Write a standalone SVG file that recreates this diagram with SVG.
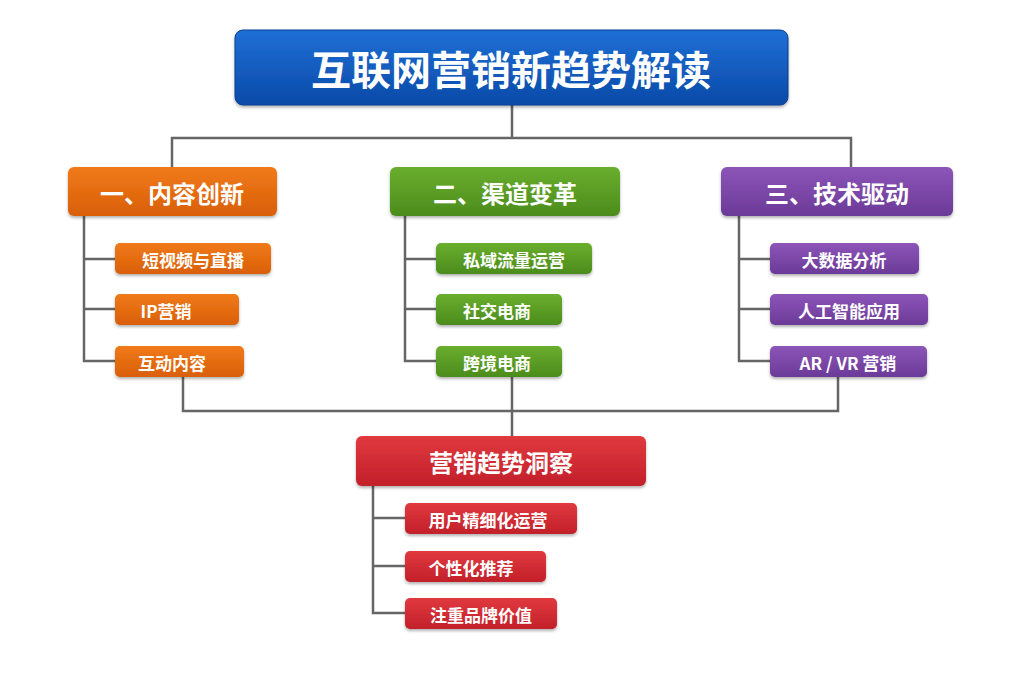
<svg xmlns="http://www.w3.org/2000/svg" width="1024" height="683" viewBox="0 0 1024 683">
<defs>
<linearGradient id="gb" x1="0" y1="0" x2="0" y2="1"><stop offset="0" stop-color="#1f6fd6"/><stop offset="1" stop-color="#0a4aa8"/></linearGradient>
<linearGradient id="go" x1="0" y1="0" x2="0" y2="1"><stop offset="0" stop-color="#f07a1a"/><stop offset="1" stop-color="#d95f06"/></linearGradient>
<linearGradient id="gg" x1="0" y1="0" x2="0" y2="1"><stop offset="0" stop-color="#6aae2e"/><stop offset="1" stop-color="#4b8c1c"/></linearGradient>
<linearGradient id="gp" x1="0" y1="0" x2="0" y2="1"><stop offset="0" stop-color="#8c55b8"/><stop offset="1" stop-color="#6b3a98"/></linearGradient>
<linearGradient id="gr" x1="0" y1="0" x2="0" y2="1"><stop offset="0" stop-color="#e0393f"/><stop offset="1" stop-color="#c2202a"/></linearGradient>
<filter id="sh" x="-10%" y="-20%" width="120%" height="150%"><feDropShadow dx="0" dy="2" stdDeviation="1.5" flood-opacity="0.3"/></filter>
</defs>
<style>
text{font-family:"Noto Sans CJK SC","Noto Sans",sans-serif;fill:#fff;text-anchor:middle;dominant-baseline:central;font-weight:bold}
.t{font-size:40px}.c{font-size:24px}.s{font-size:17px}
rect{filter:url(#sh)}
.ln{stroke:#666;stroke-width:2.5;fill:none}
</style>
<rect width="1024" height="683" fill="#fff" style="filter:none"/>
<g id="connectors" class="ln">
<path d="M512 105V138M172 167V138H851V167"/>
<path d="M84 216V361H115M84 259H115M84 309H115"/>
<path d="M405 216V361H436M405 259H436M405 309H436"/>
<path d="M739 216V361H770M739 259H770M739 309H770"/>
<path d="M183 377V411H838V377M512 377V436"/>
<path d="M373 486V613H405M373 518H405M373 566H405"/>
</g>
<g id="title"><rect x="235" y="30" width="553" height="75" rx="8" fill="url(#gb)" stroke="#0a3f90"/><text class="t" x="511" y="68">互联网营销新趋势解读</text></g>
<g id="cat1"><rect x="68" y="167" width="209" height="49" rx="6" fill="url(#go)"/><text class="c" x="172" y="192">一、内容创新</text></g>
<g id="cat2"><rect x="390" y="167" width="230" height="49" rx="6" fill="url(#gg)"/><text class="c" x="505" y="192">二、渠道变革</text></g>
<g id="cat3"><rect x="721" y="167" width="232" height="49" rx="6" fill="url(#gp)"/><text class="c" x="837" y="192">三、技术驱动</text></g>
<g id="o1"><rect x="115" y="243" width="156" height="31" rx="5" fill="url(#go)"/><text class="s" x="193" y="259">短视频与直播</text></g>
<g id="o2"><rect x="115" y="294" width="124" height="31" rx="5" fill="url(#go)"/><text class="s" x="166" y="310">IP营销</text></g>
<g id="o3"><rect x="115" y="346" width="129" height="31" rx="5" fill="url(#go)"/><text class="s" x="172" y="362">互动内容</text></g>
<g id="g1"><rect x="436" y="243" width="156" height="31" rx="5" fill="url(#gg)"/><text class="s" x="514" y="259">私域流量运营</text></g>
<g id="g2"><rect x="436" y="294" width="126" height="31" rx="5" fill="url(#gg)"/><text class="s" x="497" y="310">社交电商</text></g>
<g id="g3"><rect x="436" y="346" width="126" height="31" rx="5" fill="url(#gg)"/><text class="s" x="497" y="362">跨境电商</text></g>
<g id="p1"><rect x="770" y="243" width="149" height="31" rx="5" fill="url(#gp)"/><text class="s" x="844" y="259">大数据分析</text></g>
<g id="p2"><rect x="770" y="294" width="158" height="31" rx="5" fill="url(#gp)"/><text class="s" x="849" y="310">人工智能应用</text></g>
<g id="p3"><rect x="770" y="346" width="157" height="31" rx="5" fill="url(#gp)"/><text class="s" x="848" y="362">AR / VR 营销</text></g>
<g id="cat4"><rect x="356" y="436" width="290" height="50" rx="6" fill="url(#gr)"/><text class="c" x="501" y="461">营销趋势洞察</text></g>
<g id="r1"><rect x="405" y="503" width="172" height="31" rx="5" fill="url(#gr)"/><text class="s" x="488" y="519">用户精细化运营</text></g>
<g id="r2"><rect x="405" y="551" width="141" height="31" rx="5" fill="url(#gr)"/><text class="s" x="471" y="567">个性化推荐</text></g>
<g id="r3"><rect x="405" y="598" width="152" height="31" rx="5" fill="url(#gr)"/><text class="s" x="481" y="614">注重品牌价值</text></g>
</svg>
